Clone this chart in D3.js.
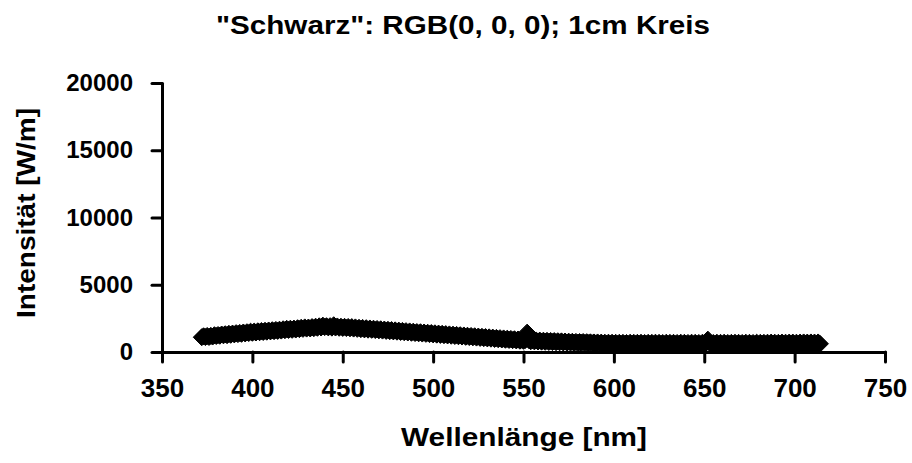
<!DOCTYPE html>
<html lang="de">
<head>
<meta charset="UTF-8">
<title>Schwarz Spektrum</title>
<script src="https://cdnjs.cloudflare.com/ajax/libs/d3/7.8.5/d3.min.js"></script>
<style>
  body { margin: 0; background: #fff; }
  text { font-family: "Liberation Sans", Arial, sans-serif; font-weight: bold; fill: #000; }
</style>
</head>
<body>
<svg id="chart" width="912" height="463"></svg>
<script>
// Wellenlaengen [nm] der Messpunkte
const wavelengths = [
  372,373,374,375,376,377,378,379,380,381,
  382,383,384,385,386,387,388,389,390,391,
  392,393,394,395,396,397,398,399,400,401,
  402,403,404,405,406,407,408,409,410,411,
  412,413,414,415,416,417,418,419,420,421,
  422,423,424,425,426,427,428,429,430,431,
  432,433,434,435,436,437,438,439,440,441,
  442,443,444,445,446,447,448,449,450,451,
  452,453,454,455,456,457,458,459,460,461,
  462,463,464,465,466,467,468,469,470,471,
  472,473,474,475,476,477,478,479,480,481,
  482,483,484,485,486,487,488,489,490,491,
  492,493,494,495,496,497,498,499,500,501,
  502,503,504,505,506,507,508,509,510,511,
  512,513,514,515,516,517,518,519,520,521,
  522,523,524,525,526,527,528,529,530,531,
  532,533,534,535,536,537,538,539,540,541,
  542,543,544,545,546,547,548,549,550,551,
  552,553,554,555,556,557,558,559,560,561,
  562,563,564,565,566,567,568,569,570,571,
  572,573,574,575,576,577,578,579,580,581,
  582,583,584,585,586,587,588,589,590,591,
  592,593,594,595,596,597,598,599,600,601,
  602,603,604,605,606,607,608,609,610,611,
  612,613,614,615,616,617,618,619,620,621,
  622,623,624,625,626,627,628,629,630,631,
  632,633,634,635,636,637,638,639,640,641,
  642,643,644,645,646,647,648,649,650,651,
  652,653,654,655,656,657,658,659,660,661,
  662,663,664,665,666,667,668,669,670,671,
  672,673,674,675,676,677,678,679,680,681,
  682,683,684,685,686,687,688,689,690,691,
  692,693,694,695,696,697,698,699,700,701,
  702,703,704,705,706,707,708,709,710,711,
  712,713,714
];

// Intensitaet [W/m]
const intensities = [
  1100,1170,1110,1190,1120,1200,1150,1250,1190,1260,
  1210,1300,1240,1320,1250,1350,1280,1370,1310,1400,
  1330,1420,1350,1450,1380,1470,1410,1510,1430,1520,
  1450,1540,1470,1560,1490,1580,1510,1600,1530,1620,
  1550,1640,1570,1660,1590,1690,1620,1720,1640,1730,
  1650,1740,1670,1770,1700,1800,1720,1830,1740,1820,
  1750,1850,1770,1880,1800,1910,1820,1960,1850,1920,
  1830,1920,1810,1990,1820,1900,1800,1880,1790,1870,
  1780,1860,1760,1850,1740,1830,1720,1800,1700,1790,
  1680,1770,1660,1750,1650,1730,1630,1710,1610,1690,
  1590,1670,1570,1650,1550,1630,1530,1610,1510,1590,
  1490,1570,1470,1550,1450,1530,1430,1510,1410,1480,
  1390,1470,1370,1450,1350,1430,1330,1410,1310,1390,
  1290,1370,1270,1350,1250,1330,1230,1310,1210,1290,
  1190,1270,1170,1250,1150,1230,1130,1210,1110,1190,
  1090,1170,1070,1150,1050,1130,1030,1110,1010,1090,
  990,1070,970,1050,950,1030,930,1010,910,990,
  900,970,880,950,860,930,840,910,830,890,
  1440,880,800,870,790,860,780,850,770,840,
  760,830,750,820,740,810,730,800,720,790,
  710,780,700,770,700,760,690,750,680,740,
  680,740,670,730,660,720,650,710,640,710,
  630,700,630,690,620,690,610,690,600,680,
  590,680,580,680,590,670,580,690,580,680,
  590,680,580,690,580,670,590,680,570,680,
  580,690,570,680,590,670,580,690,570,680,
  580,680,590,670,580,690,570,680,590,670,
  580,690,570,680,590,670,580,690,570,680,
  920,680,580,670,590,690,580,680,570,690,
  580,670,590,680,570,690,580,680,590,670,
  580,690,570,680,590,670,580,690,580,680,
  590,680,580,690,570,700,580,690,590,680,
  580,700,590,690,580,700,590,700,580,690,
  590,700,580,710,590,700,590,710,590,700,
  600,710,610
];

const xTicks = [350, 400, 450, 500, 550, 600, 650, 700, 750];
const yTicks = [0, 5000, 10000, 15000, 20000];

const svg = d3.select('#chart');

const x = d3.scaleLinear().domain([350, 750]).range([162, 885]);
const y = d3.scaleLinear().domain([0, 20000]).range([352, 83]);

// Titel
svg.append('text')
  .attr('x', 463)
  .attr('y', 34)
  .attr('text-anchor', 'middle')
  .attr('textLength', 494)
  .attr('lengthAdjust', 'spacingAndGlyphs')
  .style('font-size', '25px')
  .text('"Schwarz": RGB(0, 0, 0); 1cm Kreis');

// Achsen
const yAxis = svg.append('g')
  .attr('transform', 'translate(' + x(350) + ',0)')
  .call(d3.axisLeft(y).tickValues(yTicks).tickFormat(d3.format('d'))
    .tickSize(10).tickPadding(19).tickSizeOuter(0));

const xAxis = svg.append('g')
  .attr('transform', 'translate(0,' + y(0) + ')')
  .call(d3.axisBottom(x).tickValues(xTicks).tickFormat(d3.format('d'))
    .tickSize(10).tickPadding(17).tickSizeOuter(0));

[yAxis, xAxis].forEach(function (a) {
  a.selectAll('path, line')
    .attr('stroke', '#000')
    .attr('stroke-width', 3)
    .attr('stroke-linecap', 'round');
  a.selectAll('text')
    .style('font-family', '"Liberation Sans", Arial, sans-serif')
    .style('font-weight', 'bold');
});
yAxis.selectAll('text').style('font-size', '24px');
xAxis.selectAll('text').style('font-size', '26px');

// Achsentitel
svg.append('text')
  .attr('transform', 'translate(35,213) rotate(-90)')
  .attr('text-anchor', 'middle')
  .attr('textLength', 210)
  .attr('lengthAdjust', 'spacingAndGlyphs')
  .style('font-size', '25px')
  .text('Intensität [W/m]');

svg.append('text')
  .attr('x', 524)
  .attr('y', 446)
  .attr('text-anchor', 'middle')
  .attr('textLength', 246)
  .attr('lengthAdjust', 'spacingAndGlyphs')
  .style('font-size', '25px')
  .text('Wellenlänge [nm]');

// Messpunkte als Rauten
const r = 8.5;
const diamond = 'M0,' + (-r) + 'L' + r + ',0L0,' + r + 'L' + (-r) + ',0Z';

svg.append('g')
  .selectAll('path')
  .data(wavelengths.map(function (w, i) { return [w, intensities[i]]; }))
  .enter()
  .append('path')
  .attr('d', diamond)
  .attr('transform', function (d) {
    return 'translate(' + x(d[0]) + ',' + y(d[1]) + ')';
  })
  .attr('fill', '#000')
  .attr('stroke', '#000')
  .attr('stroke-width', 1);
</script>
</body>
</html>
